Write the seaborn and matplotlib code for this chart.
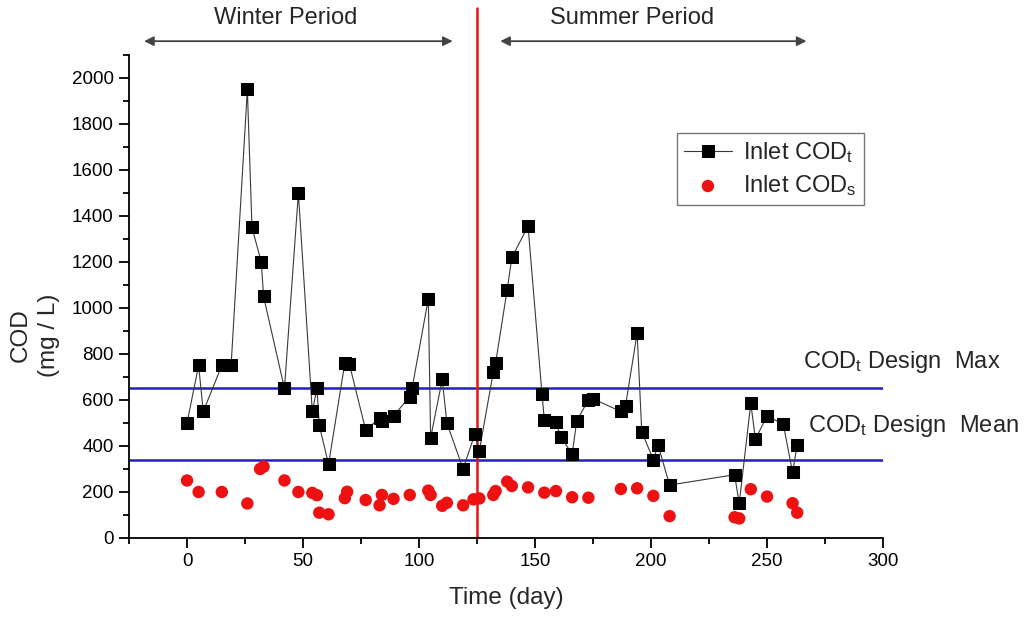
import numpy as np
import pandas as pd
import matplotlib
matplotlib.use("Agg")
import matplotlib.pyplot as plt
from matplotlib.ticker import MultipleLocator
import seaborn as sns

# Inlet total COD (mg/L) by day
codt_day = [0, 5, 7, 15, 19, 26, 28, 32, 33, 42, 48, 54, 56, 57, 61, 68, 70, 77,
            83, 84, 89, 96, 97, 104, 105, 110, 112, 119, 124, 126, 132, 133, 138,
            140, 147, 153, 154, 159, 161, 166, 168, 173, 175, 187, 189, 194, 196,
            201, 203, 208, 236, 238, 243, 245, 250, 257, 261, 263]
codt_val = [500, 750, 550, 750, 750, 1950, 1350, 1200, 1050, 650, 1500, 550, 650,
            490, 320, 760, 755, 470, 520, 510, 530, 615, 650, 1040, 435, 690, 500,
            300, 450, 380, 720, 760, 1080, 1220, 1355, 625, 515, 505, 440, 365, 510,
            600, 605, 550, 575, 890, 462, 340, 405, 230, 275, 150, 585, 430, 530,
            495, 285, 405]

# Inlet soluble COD (mg/L) by day
cods_day = [0, 5, 15, 26, 31.5, 33, 42, 48, 54, 56, 57, 61, 68, 69, 77, 83, 84, 89,
            96, 104, 105, 110, 112, 119, 123.5, 126, 132, 133, 138, 140, 147, 154,
            159, 166, 173, 187, 194, 201, 208, 236, 238, 243, 250, 261, 263]
cods_val = [250, 200, 200, 150, 300, 310, 250, 200, 196, 186, 110, 103, 173, 201,
            165, 142, 187, 170, 187, 206, 187, 140, 153, 142, 168, 172, 187, 204,
            245, 226, 220, 197, 204, 177, 175, 213, 216, 183, 95, 90, 85, 212, 180,
            151, 110]

design_max = 650
design_mean = 340
season_split = 125

sns.set_theme(style="ticks")
plt.rcParams["font.family"] = ["Liberation Sans", "DejaVu Sans"]
plt.rcParams["mathtext.fontset"] = "custom"
plt.rcParams["mathtext.rm"] = "Liberation Sans"
plt.rcParams["mathtext.it"] = "Liberation Sans"
plt.rcParams["mathtext.bf"] = "Liberation Sans:bold"

fig = plt.figure(figsize=(10.28, 6.19), dpi=100)
ax = fig.add_axes([0.1255, 0.1309, 0.7335, 0.7803])

df_t = pd.DataFrame({"day": codt_day, "cod": codt_val})
df_s = pd.DataFrame({"day": cods_day, "cod": cods_val})

ax.axhline(design_max, color="#1f1fcc", lw=1.8, zorder=1)
ax.axhline(design_mean, color="#1f1fcc", lw=1.8, zorder=1)

sns.lineplot(data=df_t, x="day", y="cod", ax=ax, color="#3a3a3a", lw=0.8,
             marker="s", markersize=8.3, markerfacecolor="black",
             markeredgecolor="black", label=r"Inlet COD$_{t}$", sort=False,
             zorder=3)
sns.scatterplot(data=df_s, x="day", y="cod", ax=ax, color="#ee1111", s=80,
                edgecolor="none", label=r"Inlet COD$_{s}$", zorder=3)

# season divider running up into the header
ax.axvline(season_split, ymin=0, ymax=1.098, color="#e01818", lw=1.8,
           clip_on=False, zorder=2)

ax.set_xlim(-25, 300)
ax.set_ylim(0, 2100)
ax.xaxis.set_major_locator(MultipleLocator(50))
ax.xaxis.set_minor_locator(MultipleLocator(25))
ax.yaxis.set_major_locator(MultipleLocator(200))
ax.yaxis.set_minor_locator(MultipleLocator(100))
ax.set_yticks(np.arange(0, 2001, 200))

sns.despine(ax=ax)
for sp in ("left", "bottom"):
    ax.spines[sp].set_linewidth(1.3)
    ax.spines[sp].set_color("black")
ax.tick_params(which="major", direction="out", length=7, width=1.3,
               labelsize=13.5, colors="black", pad=4)
ax.tick_params(which="minor", direction="out", length=4, width=1.3,
               colors="black")

ax.set_xlabel("Time (day)", fontsize=17.5, labelpad=12)
ax.set_ylabel("")
fig.text(35 / 1028, 1 - 335 / 619, "COD\n(mg / L)", rotation=90, ha="center",
         va="center", multialignment="center", fontsize=17.5, linespacing=1.4)

# season headers
arrow_kw = dict(arrowstyle="<|-|>", color="#444444", lw=1.3, mutation_scale=14,
                shrinkA=0, shrinkB=0)
ax.annotate("", xy=(-18.5, 2160), xytext=(114.5, 2160), arrowprops=arrow_kw,
            annotation_clip=False)
ax.annotate("", xy=(135, 2160), xytext=(267, 2160), arrowprops=arrow_kw,
            annotation_clip=False)
ax.text(42.5, 2262, "Winter Period", ha="center", va="center", fontsize=17,
        clip_on=False)
ax.text(192, 2262, "Summer Period", ha="center", va="center", fontsize=17,
        clip_on=False)

ax.text(265.5, 739, r"COD$_{t}$ Design  Max", ha="left", va="baseline",
        fontsize=17, clip_on=False)
ax.text(267.5, 461, r"COD$_{t}$ Design  Mean", ha="left", va="baseline",
        fontsize=17, clip_on=False)

leg = ax.legend(loc="upper left", bbox_to_anchor=(0.727, 0.8385),
                borderaxespad=0, fontsize=17, frameon=True, fancybox=False,
                handlelength=2.0, handletextpad=0.5, borderpad=0.3,
                labelspacing=0.35)
leg.get_frame().set_edgecolor("#555555")
leg.get_frame().set_linewidth(1.0)

fig.savefig("out.png", dpi=100, facecolor="white")
